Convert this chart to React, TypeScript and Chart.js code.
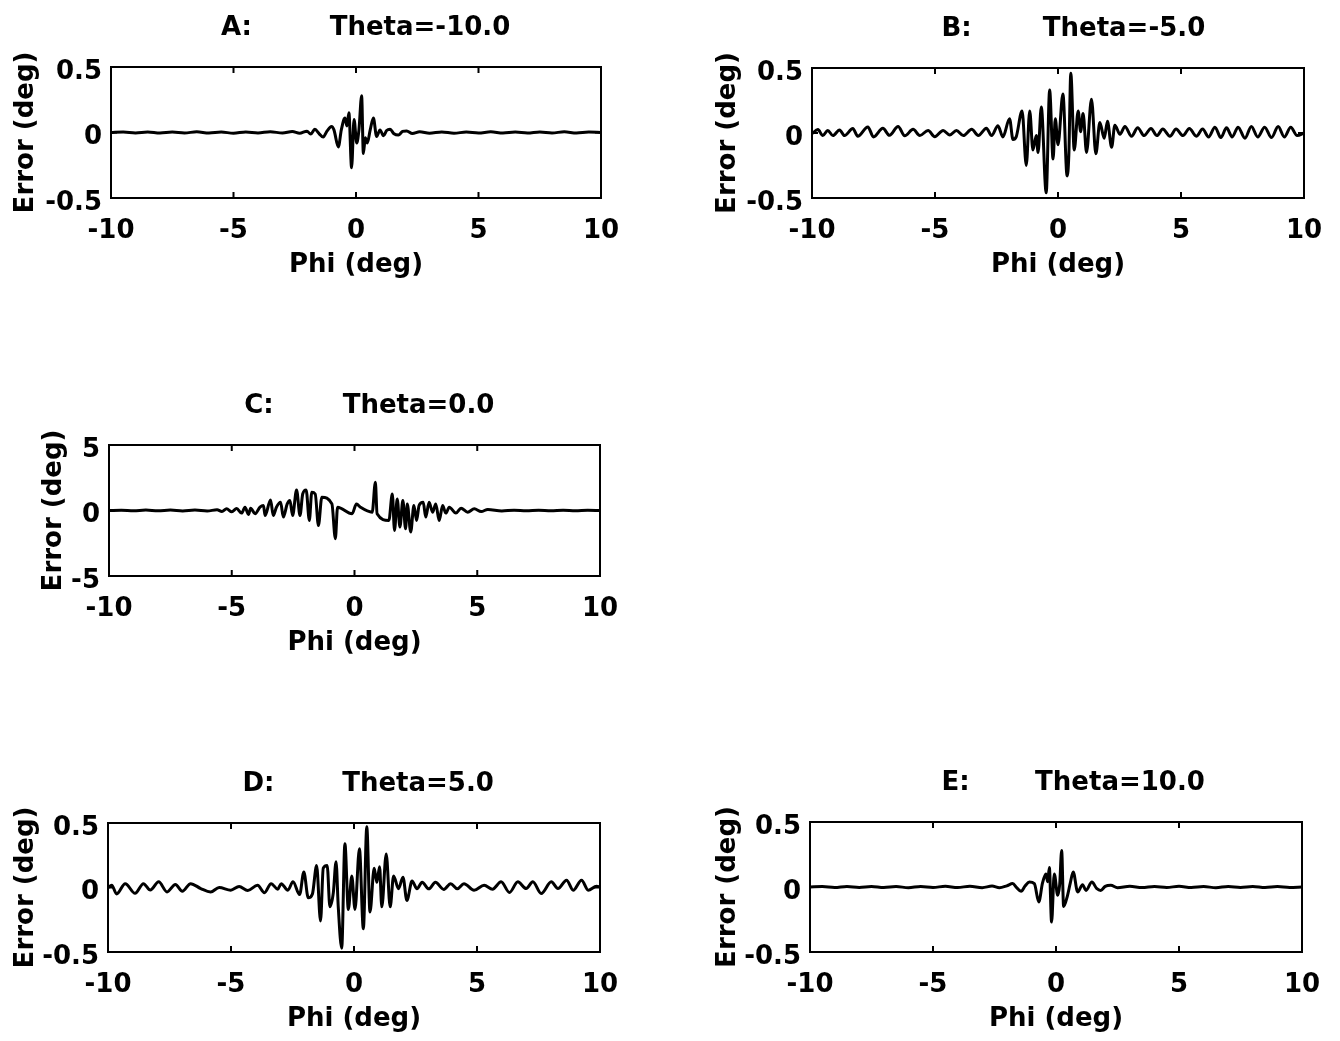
import React, { useEffect, useRef } from "react";
import { Chart, registerables } from "chart.js";

Chart.register(...registerables);

// ---------- data ----------
const xTicks = [-10, -5, 0, 5, 10];
const yTicksSmall = [-0.5, 0, 0.5];
const yTicksC = [-5, 0, 5];

const xAxisTitle = "Phi (deg)";
const yAxisTitle = "Error (deg)";

const phiA = [-10, -9.5, -9, -8.5, -8, -7.5, -7, -6.5, -6, -5.5, -5, -4.5, -4, -3.5, -3, -2.6, -2.3, -2.0, -1.85, -1.68, -1.5, -1.34, -1.18, -1.0, -0.9, -0.72, -0.6, -0.45, -0.37, -0.29, -0.18, -0.08, 0.03, 0.12, 0.23, 0.3, 0.38, 0.46, 0.58, 0.71, 0.84, 0.98, 1.12, 1.25, 1.39, 1.55, 1.73, 1.9, 2.07, 2.3, 2.6, 3, 3.5, 4, 4.5, 5, 5.5, 6, 6.5, 7, 7.5, 8, 8.5, 9, 9.5, 10];
const errA = [0, 0.004, -0.003, 0.004, -0.004, 0.003, -0.003, 0.005, -0.004, 0.003, -0.005, 0.004, -0.003, 0.006, -0.004, 0.008, -0.006, 0.01, -0.012, 0.025, -0.01, -0.035, 0.012, 0.045, 0.02, -0.11, 0.02, 0.11, 0.05, 0.15, -0.27, 0.1, -0.08, 0.02, 0.28, -0.16, -0.04, -0.08, 0.02, 0.11, -0.03, 0.02, -0.025, 0.015, 0.025, -0.01, -0.02, 0.008, 0.012, -0.008, 0.006, -0.005, 0.004, -0.005, 0.003, -0.004, 0.005, -0.004, 0.003, -0.004, 0.004, -0.003, 0.005, -0.004, 0.003, 0];

const phiB = [-10, -9.76, -9.56, -9.36, -9.15, -8.88, -8.68, -8.34, -8.14, -7.73, -7.5, -7.12, -6.85, -6.5, -6.23, -5.89, -5.62, -5.28, -5.01, -4.67, -4.4, -4.13, -3.85, -3.51, -3.24, -2.91, -2.7, -2.44, -2.24, -1.97, -1.83, -1.7, -1.46, -1.29, -1.15, -1.02, -0.88, -0.81, -0.68, -0.48, -0.34, -0.2, -0.11, 0.0, 0.2, 0.37, 0.44, 0.52, 0.66, 0.82, 0.92, 1.02, 1.16, 1.36, 1.54, 1.7, 1.88, 2.01, 2.18, 2.31, 2.52, 2.72, 2.99, 3.24, 3.5, 3.78, 4.02, 4.26, 4.55, 4.8, 5.08, 5.34, 5.62, 5.88, 6.12, 6.38, 6.62, 6.85, 7.08, 7.32, 7.6, 7.86, 8.12, 8.4, 8.68, 8.95, 9.2, 9.46, 9.72, 10];
const errB = [-0.005, 0.026, -0.02, 0.02, -0.02, 0.024, -0.02, 0.034, -0.025, 0.047, -0.03, 0.036, -0.018, 0.05, -0.022, 0.028, -0.02, 0.02, -0.028, 0.02, -0.015, 0.02, -0.02, 0.028, -0.02, 0.036, -0.02, 0.055, -0.03, 0.11, -0.05, -0.03, 0.17, -0.25, 0.17, -0.13, -0.02, -0.15, 0.2, -0.46, 0.33, -0.2, 0.11, -0.09, 0.3, -0.33, -0.17, 0.46, -0.13, 0.17, 0.01, 0.15, -0.15, 0.26, -0.16, 0.08, -0.04, 0.09, -0.11, 0.06, -0.01, 0.05, -0.025, 0.04, -0.02, 0.035, -0.02, 0.03, -0.025, 0.03, -0.02, 0.035, -0.025, 0.03, -0.03, 0.045, -0.035, 0.04, -0.03, 0.045, -0.04, 0.05, -0.03, 0.045, -0.035, 0.05, -0.03, 0.045, -0.02, 0.0];

const phiC = [-10, -9.5, -9, -8.5, -8, -7.5, -7, -6.5, -6, -5.6, -5.4, -5.21, -5.0, -4.8, -4.6, -4.46, -4.32, -4.23, -4.05, -3.85, -3.71, -3.64, -3.42, -3.31, -3.18, -3.01, -2.9, -2.74, -2.63, -2.52, -2.36, -2.22, -2.11, -1.97, -1.84, -1.74, -1.6, -1.47, -1.33, -0.92, -0.78, -0.69, -0.1, 0.08, 0.24, 0.72, 0.85, 0.92, 1.4, 1.54, 1.63, 1.74, 1.85, 1.97, 2.08, 2.15, 2.29, 2.42, 2.53, 2.63, 2.8, 2.9, 3.04, 3.18, 3.31, 3.45, 3.59, 3.72, 3.86, 4.13, 4.34, 4.61, 4.88, 5.16, 5.43, 6, 6.5, 7, 7.5, 8, 8.5, 9, 9.5, 10];
const errC = [0, 0.02, -0.02, 0.03, -0.02, 0.03, -0.03, 0.03, -0.04, 0.06, -0.08, 0.13, -0.1, 0.15, -0.2, 0.25, -0.3, 0.18, -0.25, 0.25, 0.38, -0.38, 0.81, -0.38, 0.25, 0.63, -0.5, 0.5, 0.76, -0.38, 1.57, -0.38, 1.26, 1.57, -0.76, 1.39, 1.26, -1.14, 1.01, 0.5, -2.15, 0.25, -0.25, 0.5, 0.25, -0.13, 2.15, -0.25, -0.76, 1.26, -1.52, 0.88, -1.26, 0.76, -1.39, 0.5, -1.64, 0.38, -0.76, 0.38, 0.63, -0.5, 0.63, -0.13, 0.5, -0.76, 0.38, -0.2, 0.25, -0.2, 0.18, -0.13, 0.13, -0.08, 0.08, -0.03, 0.02, -0.02, 0.02, -0.02, 0.02, -0.02, 0.01, 0];

const phiD = [-10, -9.85, -9.65, -9.3, -8.9, -8.56, -8.28, -7.94, -7.6, -7.26, -6.98, -6.64, -6.23, -5.83, -5.48, -5.01, -4.67, -4.32, -3.92, -3.64, -3.37, -3.1, -2.96, -2.69, -2.48, -2.21, -2.04, -1.86, -1.69, -1.52, -1.36, -1.25, -1.09, -0.98, -0.84, -0.73, -0.64, -0.5, -0.37, -0.23, -0.09, 0.04, 0.22, 0.38, 0.52, 0.65, 0.82, 0.93, 1.04, 1.13, 1.31, 1.47, 1.61, 1.81, 1.99, 2.15, 2.36, 2.56, 2.77, 3.04, 3.31, 3.65, 3.93, 4.2, 4.47, 4.88, 5.29, 5.63, 5.98, 6.32, 6.66, 7.0, 7.27, 7.61, 8.02, 8.29, 8.64, 8.91, 9.25, 9.52, 9.86, 10];
const errD = [0.0, 0.018, -0.05, 0.03, -0.045, 0.03, -0.02, 0.044, -0.034, 0.023, -0.029, 0.03, -0.008, -0.035, 0.0, -0.021, 0.008, -0.023, 0.018, -0.04, 0.03, -0.013, 0.03, -0.021, 0.044, -0.055, 0.12, -0.08, -0.05, 0.17, -0.26, 0.15, 0.17, -0.15, -0.04, 0.2, -0.15, -0.47, 0.34, -0.17, 0.09, -0.17, 0.3, -0.32, 0.47, -0.19, 0.15, 0.04, 0.16, -0.15, 0.26, -0.15, 0.09, -0.01, 0.08, -0.1, 0.05, -0.01, 0.04, -0.01, 0.04, -0.015, 0.03, -0.01, 0.03, -0.021, 0.018, -0.013, 0.044, -0.039, 0.044, -0.008, 0.044, -0.047, 0.044, -0.008, 0.057, -0.021, 0.057, -0.021, 0.01, 0.005];

const phiE = [-10, -9.5, -9, -8.5, -8, -7.5, -7, -6.5, -6, -5.5, -5, -4.5, -4, -3.5, -3, -2.6, -2.3, -2.0, -1.76, -1.6, -1.42, -1.25, -1.08, -0.88, -0.7, -0.55, -0.41, -0.34, -0.27, -0.18, -0.07, 0.07, 0.15, 0.23, 0.31, 0.47, 0.58, 0.7, 0.88, 1.08, 1.22, 1.46, 1.65, 1.82, 2.0, 2.23, 2.5, 3, 3.5, 4, 4.5, 5, 5.5, 6, 6.5, 7, 7.5, 8, 8.5, 9, 9.5, 10];
const errE = [0, 0.003, -0.004, 0.004, -0.003, 0.004, -0.004, 0.003, -0.005, 0.004, -0.003, 0.005, -0.004, 0.006, -0.005, 0.007, -0.006, 0.009, 0.026, -0.005, -0.033, 0.01, 0.038, 0.026, -0.115, 0.03, 0.1, 0.04, 0.15, -0.27, 0.1, -0.064, 0.02, 0.28, -0.15, -0.064, 0.03, 0.115, -0.038, 0.018, -0.026, 0.038, -0.01, -0.026, 0.005, 0.013, -0.006, 0.005, -0.004, 0.004, -0.003, 0.005, -0.004, 0.003, -0.005, 0.004, -0.003, 0.004, -0.004, 0.003, -0.003, 0];

// ---------- styling / layout ----------
const FONT = "'DejaVu Sans', 'Liberation Sans', Arial, sans-serif";
const FS = 26;
const LH = FS * 1.2;

type Box = {
  cL: number; cT: number; cW: number; cH: number;
  pL: number; pT: number; pR: number; pB: number;
  yTitleX: number; xTitleY: number;
  letterDx: number; thetaDx: number;
};

type PanelDef = {
  box: Box;
  phi: number[];
  err: number[];
  yTicks: number[];
  letter: string;
  theta: string;
};

const panels: PanelDef[] = [
  {
    box: { cL: 0, cT: 0, cW: 680, cH: 330, pL: 111, pT: 67, pR: 601, pB: 198, yTitleX: 26, xTitleY: 265, letterDx: -119.5, thetaDx: 64 },
    phi: phiA, err: errA, yTicks: yTicksSmall, letter: "A:", theta: "Theta=-10.0",
  },
  {
    box: { cL: 680, cT: 0, cW: 660, cH: 330, pL: 812, pT: 68, pR: 1304, pB: 198, yTitleX: 728, xTitleY: 265, letterDx: -101.5, thetaDx: 66 },
    phi: phiB, err: errB, yTicks: yTicksSmall, letter: "B:", theta: "Theta=-5.0",
  },
  {
    box: { cL: 0, cT: 340, cW: 680, cH: 360, pL: 109, pT: 445, pR: 600, pB: 576, yTitleX: 54, xTitleY: 643, letterDx: -95.5, thetaDx: 64 },
    phi: phiC, err: errC, yTicks: yTicksC, letter: "C:", theta: "Theta=0.0",
  },
  {
    box: { cL: 0, cT: 710, cW: 680, cH: 331, pL: 108, pT: 823, pR: 600, pB: 952, yTitleX: 26, xTitleY: 1019, letterDx: -95.5, thetaDx: 64 },
    phi: phiD, err: errD, yTicks: yTicksSmall, letter: "D:", theta: "Theta=5.0",
  },
  {
    box: { cL: 680, cT: 710, cW: 660, cH: 331, pL: 810, pT: 822, pR: 1302, pB: 952, yTitleX: 728, xTitleY: 1019, letterDx: -100.5, thetaDx: 64 },
    phi: phiE, err: errE, yTicks: yTicksSmall, letter: "E:", theta: "Theta=10.0",
  },
];

const panelDeco = {
  id: "panelDeco",
  afterDraw(chart: any, _args: any, opts: any) {
    const { ctx, chartArea, scales } = chart;
    const { left, right, top, bottom } = chartArea;
    ctx.save();
    ctx.strokeStyle = "#000";
    ctx.lineWidth = 2;
    ctx.strokeRect(left, top, right - left, bottom - top);
    const tl = 6;
    ctx.beginPath();
    for (const v of opts.xTicks) {
      const px = scales.x.getPixelForValue(v);
      ctx.moveTo(px, bottom);
      ctx.lineTo(px, bottom - tl);
      ctx.moveTo(px, top);
      ctx.lineTo(px, top + tl);
    }
    for (const v of opts.yTicks) {
      const py = scales.y.getPixelForValue(v);
      ctx.moveTo(left, py);
      ctx.lineTo(left + tl, py);
      ctx.moveTo(right, py);
      ctx.lineTo(right - tl, py);
    }
    ctx.stroke();
    ctx.font = `bold ${FS}px ${FONT}`;
    ctx.fillStyle = "#000";
    ctx.textAlign = "center";
    ctx.textBaseline = "alphabetic";
    const cx = (left + right) / 2;
    ctx.fillText(opts.letter, cx + opts.letterDx, top - 32);
    ctx.fillText(opts.theta, cx + opts.thetaDx, top - 32);
    ctx.restore();
  },
};

function Panel({ def }: { def: PanelDef }) {
  const ref = useRef<HTMLCanvasElement | null>(null);
  const b = def.box;
  useEffect(() => {
    if (!ref.current) return;
    const padLeft = b.yTitleX - LH / 2 - b.cL;
    const yWidth = b.pL - (b.cL + padLeft);
    const padRight = b.cL + b.cW - b.pR;
    const padTop = b.pT - b.cT;
    const padBottom = b.cT + b.cH - LH / 2 - b.xTitleY;
    const xHeight = b.cT + b.cH - padBottom - b.pB;
    const yMin = def.yTicks[0];
    const yMax = def.yTicks[def.yTicks.length - 1];
    const n = Math.min(def.phi.length, def.err.length);
    const pts = [];
    for (let i = 0; i < n; i++) pts.push({ x: def.phi[i], y: def.err[i] });
    const font = { family: FONT, size: FS, weight: "bold" as const, lineHeight: 1.2 };
    const chart = new Chart(ref.current, {
      type: "line",
      data: {
        datasets: [
          {
            data: pts,
            borderColor: "#000",
            borderWidth: 3,
            pointRadius: 0,
            cubicInterpolationMode: "monotone",
            fill: false,
          },
        ],
      },
      plugins: [panelDeco as any],
      options: {
        animation: false,
        responsive: false,
        maintainAspectRatio: false,
        events: [],
        layout: { padding: { left: padLeft, right: padRight, top: padTop, bottom: padBottom } },
        plugins: {
          legend: { display: false },
          tooltip: { enabled: false },
          title: { display: false },
          panelDeco: {
            xTicks,
            yTicks: def.yTicks,
            letter: def.letter,
            theta: def.theta,
            letterDx: b.letterDx,
            thetaDx: b.thetaDx,
          },
        } as any,
        scales: {
          x: {
            type: "linear",
            min: -10,
            max: 10,
            grid: { display: false, drawTicks: false },
            border: { display: false },
            afterBuildTicks: (s: any) => {
              s.ticks = xTicks.map((v) => ({ value: v }));
            },
            afterFit: (s: any) => {
              s.height = xHeight;
            },
            ticks: {
              padding: 17.5,
              maxRotation: 0,
              autoSkip: false,
              font,
              color: "#000",
              callback: (v: any) => String(v),
            },
            title: { display: true, text: xAxisTitle, padding: 0, font, color: "#000" },
          },
          y: {
            type: "linear",
            min: yMin,
            max: yMax,
            grid: { display: false, drawTicks: false },
            border: { display: false },
            afterBuildTicks: (s: any) => {
              s.ticks = def.yTicks.map((v) => ({ value: v }));
            },
            afterFit: (s: any) => {
              s.width = yWidth;
            },
            ticks: {
              padding: 9,
              labelOffset: 5,
              autoSkip: false,
              font,
              color: "#000",
              callback: (v: any) => String(v),
            },
            title: { display: true, text: yAxisTitle, padding: 0, font, color: "#000" },
          },
        },
      } as any,
    });
    return () => chart.destroy();
  }, []);
  return (
    <canvas
      ref={ref}
      width={b.cW}
      height={b.cH}
      style={{ position: "absolute", left: b.cL, top: b.cT, width: b.cW, height: b.cH }}
    />
  );
}

export default function App() {
  return (
    <div style={{ position: "absolute", left: 0, top: 0, width: 1340, height: 1041, background: "#fff", overflow: "hidden" }}>
      {panels.map((p, i) => (
        <Panel key={i} def={p} />
      ))}
    </div>
  );
}
